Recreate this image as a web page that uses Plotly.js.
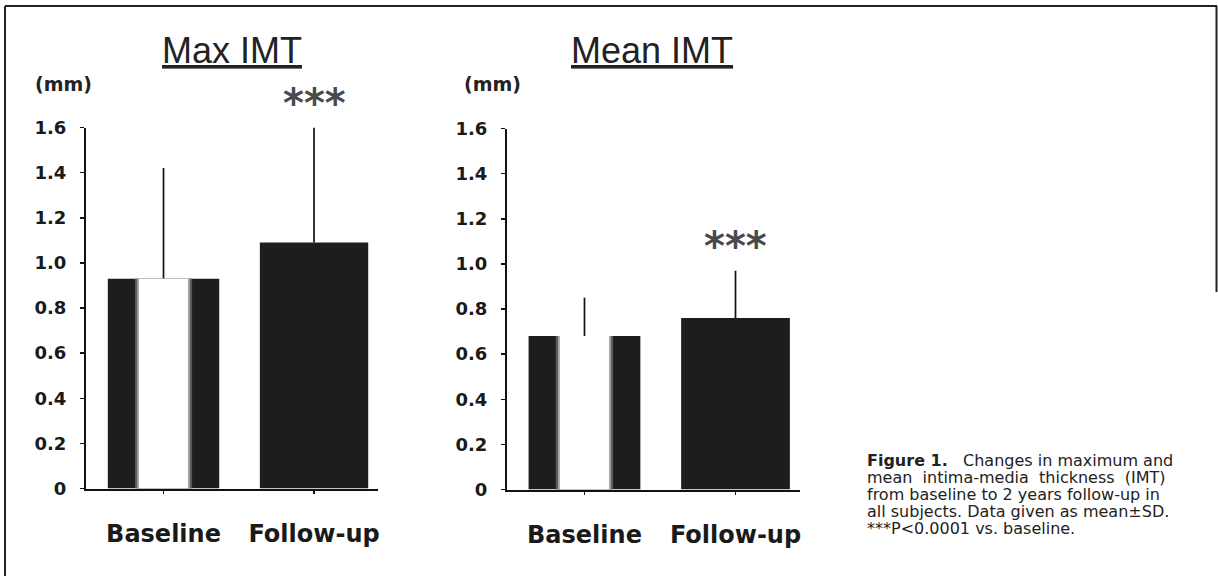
<!DOCTYPE html>
<html>
<head>
<meta charset="utf-8">
<script src="https://cdn.plot.ly/plotly-3.0.1.min.js"></script>
<style>html,body{margin:0;padding:0;background:#fff;}#chart{width:1218px;height:576px;}</style>
</head>
<body>
<div id="chart"></div>
<script>
// ---- data ----
var categories = ['Baseline', 'Follow-up'];
var maxIMT = [0.93, 1.09];
var maxIMTsd = [0.49, 0.51];
var meanIMT = [0.68, 0.76];
var meanIMTsd = [0.17, 0.21];
var tickValues = [0, 0.2, 0.4, 0.6, 0.8, 1.0, 1.2, 1.4, 1.6];
var tickLabels = ['0', '0.2', '0.4', '0.6', '0.8', '1.0', '1.2', '1.4', '1.6'];
var panelTitles = ['Max IMT', 'Mean IMT'];
var unitLabel = '(mm)';
var sigMark = '***';
var captionLines = [
  '<b>Figure 1.</b>   Changes in maximum and',
  'mean  intima-media  thickness  (IMT)',
  'from baseline to 2 years follow-up in',
  'all subjects. Data given as mean\u00b1SD.',
  '***P<0.0001 vs. baseline.'
];

var DARK = '#1d1d1d';
var traces = [];
function panel(vals, sds, xa, ya) {
  traces.push({
    type: 'bar', x: categories, y: vals, xaxis: xa, yaxis: ya,
    width: [0.74, 0.72],
    marker: {color: [DARK, DARK], line: {width: 0}},
    error_y: {type: 'data', array: sds, arrayminus: [0, 0], symmetric: false,
              color: '#111', thickness: 1.7, width: 0},
    hoverinfo: 'none', showlegend: false
  });
  traces.push({
    type: 'bar', x: [categories[0]], y: [vals[0]], xaxis: xa, yaxis: ya,
    width: [0.38], marker: {color: '#5a5a5a', line: {width: 0}},
    hoverinfo: 'none', showlegend: false
  });
  traces.push({
    type: 'bar', x: [categories[0]], y: [vals[0]], xaxis: xa, yaxis: ya,
    width: [0.35], marker: {color: '#a8a8a8', line: {width: 0}},
    hoverinfo: 'none', showlegend: false
  });
  traces.push({
    type: 'bar', x: [categories[0]], y: [vals[0]], xaxis: xa, yaxis: ya,
    width: [0.325], marker: {color: '#ffffff', line: {width: 0}},
    hoverinfo: 'none', showlegend: false
  });
}
panel(maxIMT, maxIMTsd, 'x', 'y');
panel(meanIMT, meanIMTsd, 'x2', 'y2');

var H = 576, W = 1218;
function py(p) { return 1 - p / H; }
function px(p) { return p / W; }

var fontFam = 'Liberation Sans, Arial, sans-serif';
var boldFam = 'DejaVu Sans, sans-serif';
var yCommon = {
  range: [0, 1.6], tickmode: 'array', tickvals: tickValues, ticktext: tickLabels,
  showline: true, linecolor: '#111', linewidth: 2, showgrid: false, zeroline: false,
  ticks: 'outside', ticklen: 4, tickwidth: 1.5, tickcolor: '#111',
  ticklabelstandoff: 10,
  tickfont: {family: boldFam, size: 18, color: '#1a1a1a', weight: 'bold'},
  fixedrange: true
};
var xCommon = {
  type: 'category', showline: true, linecolor: '#111', linewidth: 2, showgrid: false,
  zeroline: false, ticks: 'outside', ticklen: 3, tickwidth: 1.5, tickcolor: '#111',
  ticklabelstandoff: 20,
  tickfont: {family: boldFam, size: 24, color: '#1a1a1a', weight: 'bold'},
  fixedrange: true
};

var layout = {
  width: W, height: H,
  margin: {l: 0, r: 0, t: 0, b: 0},
  paper_bgcolor: '#fff', plot_bgcolor: 'rgba(0,0,0,0)',
  barmode: 'overlay', showlegend: false,
  xaxis: Object.assign({}, xCommon, {domain: [px(86), px(378)], range: [-0.515, 1.425], anchor: 'y'}),
  yaxis: Object.assign({}, yCommon, {domain: [py(488.5), py(127.5)], anchor: 'x'}),
  xaxis2: Object.assign({}, xCommon, {domain: [px(507), px(800)], range: [-0.513, 1.427], anchor: 'y2'}),
  yaxis2: Object.assign({}, yCommon, {domain: [py(489.5), py(128.5)], anchor: 'x2'}),
  annotations: [
    {xref: 'paper', yref: 'paper', x: px(232), y: py(50), text: '<u>' + panelTitles[0] + '</u>',
     showarrow: false, font: {family: fontFam, size: 36, color: '#222'}, xanchor: 'center', yanchor: 'middle'},
    {xref: 'paper', yref: 'paper', x: px(652), y: py(50), text: '<u>' + panelTitles[1] + '</u>',
     showarrow: false, font: {family: fontFam, size: 36, color: '#222'}, xanchor: 'center', yanchor: 'middle'},
    {xref: 'paper', yref: 'paper', x: px(63), y: py(84), text: unitLabel,
     showarrow: false, font: {family: boldFam, size: 19, color: '#222', weight: 'bold'}, xanchor: 'center', yanchor: 'middle'},
    {xref: 'paper', yref: 'paper', x: px(492), y: py(84), text: unitLabel,
     showarrow: false, font: {family: boldFam, size: 19, color: '#222', weight: 'bold'}, xanchor: 'center', yanchor: 'middle'},
    {xref: 'x', yref: 'paper', x: categories[1], y: py(103), text: sigMark,
     showarrow: false, font: {family: boldFam, size: 40, color: '#4a4a4a', weight: 'bold'}, xanchor: 'center', yanchor: 'middle'},
    {xref: 'x2', yref: 'y2', x: categories[1], y: 1.08, text: sigMark,
     showarrow: false, font: {family: boldFam, size: 40, color: '#4a4a4a', weight: 'bold'}, xanchor: 'center', yanchor: 'middle'}
  ],
  shapes: [
    {type: 'line', xref: 'paper', yref: 'paper', x0: px(5), x1: px(5), y0: 0, y1: py(6), line: {color: '#222', width: 2}},
    {type: 'line', xref: 'paper', yref: 'paper', x0: px(5), x1: px(1217), y0: py(6), y1: py(6), line: {color: '#222', width: 2}},
    {type: 'line', xref: 'paper', yref: 'paper', x0: px(1216.5), x1: px(1216.5), y0: py(6), y1: py(292), line: {color: '#222', width: 2}}
  ]
};

captionLines.forEach(function (t, i) {
  layout.annotations.push({
    xref: 'paper', yref: 'paper', x: px(866), y: py(460 + i * 17.2), text: t,
    showarrow: false, xanchor: 'left', yanchor: 'middle', align: 'left', borderpad: 0,
    font: {family: 'DejaVu Sans, sans-serif', size: 16, color: '#222'}
  });
});

Plotly.newPlot('chart', traces, layout, {displayModeBar: false, staticPlot: true});
</script>
</body>
</html>
